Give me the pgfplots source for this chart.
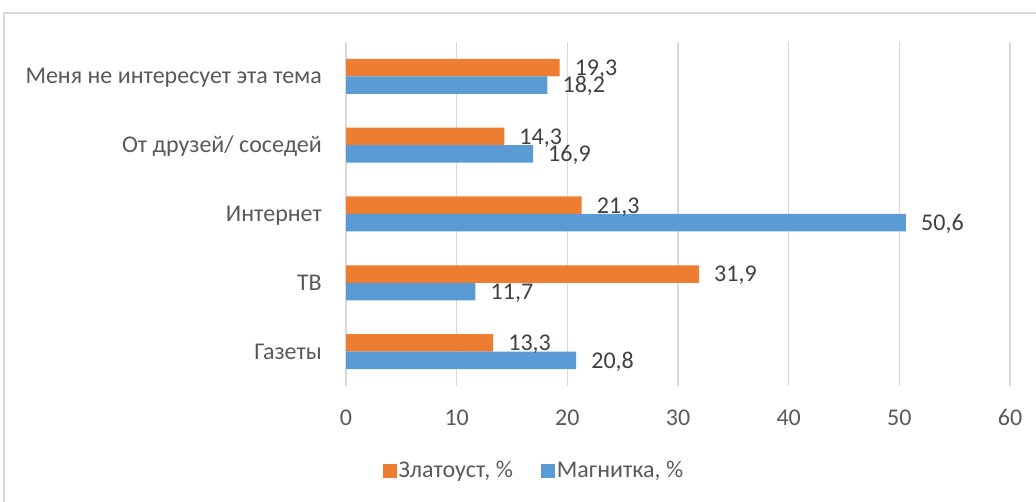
\documentclass[border=0pt]{standalone}
\usepackage{fontspec}
\setmainfont{Carlito}
\usepackage{pgfplots}
\pgfplotsset{compat=1.18}
\definecolor{zlat}{HTML}{ED7D31}
\definecolor{magn}{HTML}{5B9BD5}
\definecolor{gridc}{HTML}{D9D9D9}
\definecolor{txt}{HTML}{595959}
\definecolor{lbl}{HTML}{404040}
\begin{document}
\fontsize{24}{28}\selectfont
\begin{tikzpicture}[x=1pt,y=1pt]
\useasboundingbox (0,0) rectangle (1036,502);
\draw[gridc, line width=1.3pt] (4,-20) -- (4,489) -- (1060,489);
\begin{axis}[
  at={(346pt,116pt)}, anchor=south west,
  scale only axis, width=664pt, height=344pt,
  xbar, bar width=17.5pt,
  xmin=0, xmax=60, xtick={0,10,...,60},
  ymin=-0.5, ymax=4.5, ytick={0,...,4},
  yticklabels={Газеты, ТВ, Интернет, От друзей/ соседей, Меня не интересует эта тема},
  axis line style={draw=none},
  major tick length=0pt,
  xmajorgrids, grid style={gridc, line width=1.3pt},
  /pgf/number format/assume math mode=true,
  xticklabel style={anchor=base, yshift=-40pt, inner sep=0pt, text=txt},
  yticklabel style={anchor=base east, xshift=-24pt, yshift=-7.5pt, inner sep=0pt, text=txt},
  nodes near coords={\pgfmathprintnumber[use comma,fixed,fixed zerofill,precision=1,assume math mode=true]{\pgfplotspointmeta}},
  every node near coord/.append style={anchor=base west, inner sep=0pt, xshift=15pt, yshift=-7.8pt, text=lbl},
  legend style={at={(0.283,-0.247)}, anchor=center, draw=none, legend columns=2,
    /tikz/every even column/.append style={column sep=26pt}, text=txt},
  legend image code/.code={\fill[#1] (0pt,-7pt) rectangle (14pt,7pt);},
]
\addplot[fill=zlat, draw=none, bar shift=8.75pt] coordinates {(13.3,0) (31.9,1) (21.3,2) (14.3,3) (19.3,4)};
\addlegendentry{Златоуст, \%}
\addplot[fill=magn, draw=none, bar shift=-8.75pt] coordinates {(20.8,0) (11.7,1) (50.6,2) (16.9,3) (18.2,4)};
\addlegendentry{Магнитка, \%}
\end{axis}
\end{tikzpicture}
\end{document}
